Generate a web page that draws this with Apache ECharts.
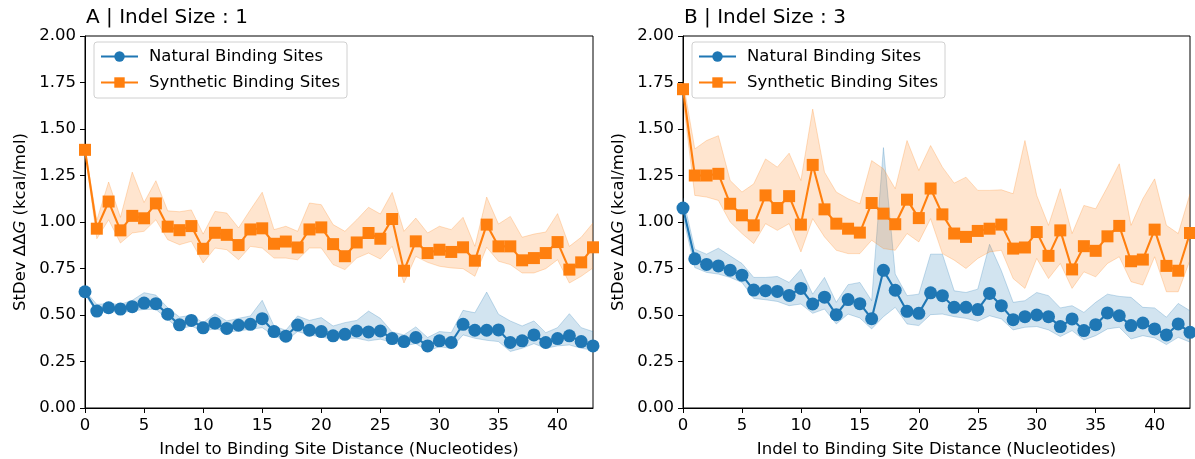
<!DOCTYPE html>
<html>
<head>
<meta charset="utf-8">
<script src="https://cdn.jsdelivr.net/npm/echarts@6/dist/echarts.min.js"></script>
<style>
  html, body { margin: 0; padding: 0; background: #fff; }
  #main { width: 1195px; height: 459px; }
</style>
</head>
<body>
<div id="main"></div>
<script>
// A | Indel Size : 1
var natA = [0.625, 0.521, 0.539, 0.532, 0.545, 0.564, 0.561, 0.504, 0.447, 0.471, 0.431, 0.456, 0.428, 0.445, 0.450, 0.480, 0.411, 0.386, 0.446, 0.418, 0.411, 0.388,
            0.396, 0.414, 0.409, 0.414, 0.373, 0.357, 0.379, 0.334, 0.361, 0.352, 0.450, 0.418, 0.418, 0.420, 0.352, 0.361, 0.393, 0.352, 0.373, 0.388, 0.357, 0.334];
var natAHi = [0.630, 0.557, 0.561, 0.557, 0.579, 0.620, 0.607, 0.539, 0.489, 0.498, 0.459, 0.507, 0.468, 0.482, 0.495, 0.579, 0.441, 0.418, 0.495, 0.471, 0.486, 0.441,
              0.459, 0.471, 0.521, 0.482, 0.409, 0.393, 0.436, 0.379, 0.411, 0.405, 0.525, 0.512, 0.623, 0.504, 0.468, 0.441, 0.468, 0.405, 0.432, 0.507, 0.432, 0.411];
var natALo = [0.611, 0.512, 0.521, 0.512, 0.521, 0.530, 0.530, 0.477, 0.423, 0.441, 0.411, 0.427, 0.409, 0.414, 0.423, 0.432, 0.388, 0.361, 0.411, 0.393, 0.382, 0.368,
              0.375, 0.375, 0.361, 0.370, 0.352, 0.334, 0.346, 0.307, 0.329, 0.321, 0.393, 0.375, 0.364, 0.357, 0.304, 0.321, 0.346, 0.321, 0.334, 0.339, 0.321, 0.311];
var synA = [1.388, 0.964, 1.110, 0.955, 1.033, 1.020, 1.100, 0.975, 0.956, 0.978, 0.856, 0.942, 0.931, 0.876, 0.960, 0.966, 0.883, 0.895, 0.863, 0.960, 0.971, 0.881,
            0.816, 0.890, 0.941, 0.910, 1.016, 0.738, 0.896, 0.833, 0.851, 0.839, 0.864, 0.792, 0.986, 0.869, 0.869, 0.794, 0.806, 0.833, 0.892, 0.744, 0.783, 0.864];
var synAHi = [1.392, 1.010, 1.215, 1.025, 1.268, 1.105, 1.222, 1.060, 1.055, 1.065, 0.935, 1.057, 1.048, 0.968, 1.066, 1.160, 0.959, 0.977, 0.950, 1.102, 1.093, 0.986,
              0.950, 1.012, 1.079, 1.043, 1.159, 0.950, 1.021, 0.941, 0.977, 0.959, 1.025, 0.869, 1.134, 0.989, 1.030, 0.918, 0.935, 0.946, 1.045, 0.869, 0.918, 0.995];
var synALo = [1.380, 0.910, 1.012, 0.887, 0.941, 0.950, 1.012, 0.905, 0.878, 0.896, 0.780, 0.860, 0.851, 0.797, 0.869, 0.860, 0.806, 0.806, 0.797, 0.860, 0.860, 0.771,
              0.744, 0.806, 0.833, 0.801, 0.869, 0.672, 0.815, 0.783, 0.762, 0.753, 0.749, 0.708, 0.864, 0.789, 0.771, 0.726, 0.726, 0.749, 0.797, 0.672, 0.708, 0.753];

// B | Indel Size : 3
var natB = [1.075, 0.802, 0.772, 0.764, 0.741, 0.714, 0.634, 0.631, 0.627, 0.605, 0.643, 0.559, 0.596, 0.502, 0.583, 0.561, 0.480, 0.740, 0.633, 0.520, 0.509, 0.619,
            0.604, 0.541, 0.541, 0.529, 0.616, 0.550, 0.475, 0.491, 0.500, 0.491, 0.438, 0.479, 0.416, 0.448, 0.511, 0.496, 0.443, 0.457, 0.425, 0.393, 0.452, 0.407];
var natBHi = [1.130, 0.854, 0.827, 0.859, 0.818, 0.777, 0.702, 0.702, 0.707, 0.675, 0.746, 0.612, 0.702, 0.568, 0.663, 0.675, 0.577, 1.400, 0.720, 0.604, 0.612, 0.827,
              0.827, 0.630, 0.621, 0.639, 0.880, 0.738, 0.568, 0.577, 0.621, 0.604, 0.538, 0.550, 0.514, 0.568, 0.612, 0.600, 0.595, 0.541, 0.538, 0.488, 0.562, 0.523];
var natBLo = [1.030, 0.755, 0.729, 0.720, 0.702, 0.675, 0.589, 0.582, 0.573, 0.550, 0.559, 0.509, 0.532, 0.452, 0.505, 0.484, 0.425, 0.491, 0.541, 0.452, 0.443, 0.502,
              0.505, 0.491, 0.482, 0.466, 0.496, 0.479, 0.420, 0.434, 0.438, 0.420, 0.384, 0.416, 0.366, 0.389, 0.425, 0.434, 0.371, 0.389, 0.377, 0.341, 0.380, 0.354];
var synB = [1.714, 1.250, 1.250, 1.259, 1.098, 1.036, 0.982, 1.143, 1.075, 1.139, 0.986, 1.307, 1.068, 0.991, 0.964, 0.943, 1.102, 1.045, 0.988, 1.120, 1.021, 1.180,
            1.041, 0.938, 0.920, 0.952, 0.964, 0.986, 0.857, 0.863, 0.946, 0.818, 0.955, 0.745, 0.870, 0.845, 0.923, 0.979, 0.789, 0.798, 0.959, 0.764, 0.738, 0.941];
var synBHi = [1.760, 1.393, 1.438, 1.464, 1.223, 1.161, 1.205, 1.339, 1.295, 1.370, 1.223, 1.607, 1.268, 1.161, 1.125, 1.098, 1.330, 1.286, 1.179, 1.438, 1.277, 1.411,
              1.295, 1.209, 1.241, 1.170, 1.170, 1.173, 1.152, 1.438, 1.143, 0.982, 1.179, 0.938, 1.089, 1.071, 1.188, 1.313, 0.982, 1.125, 1.232, 0.982, 0.938, 1.152];
var synBLo = [1.660, 1.143, 1.134, 1.116, 1.000, 0.938, 0.884, 0.991, 0.955, 0.991, 0.839, 1.018, 0.920, 0.848, 0.830, 0.830, 0.902, 0.857, 0.848, 0.938, 0.893, 1.018,
              0.830, 0.795, 0.750, 0.804, 0.839, 0.848, 0.696, 0.643, 0.804, 0.696, 0.777, 0.643, 0.732, 0.705, 0.777, 0.813, 0.679, 0.661, 0.813, 0.625, 0.625, 0.795];

var titles = ['A | Indel Size : 1', 'B | Indel Size : 3'];
var seriesNames = ['Natural Binding Sites', 'Synthetic Binding Sites'];

var BLUE = '#1f77b4', ORANGE = '#ff7f0e';
var FONT = 'DejaVu Sans';
var FS = 16.5;

function pairs(arr) { return arr.map(function (v, i) { return [i, v]; }); }

// shaded band between lo and hi, drawn as one polygon through the axis scales
function band(gi, hi, lo, color) {
  return {
    type: 'custom', xAxisIndex: gi, yAxisIndex: gi, silent: true, z: 1,
    data: [[0, lo[0]]],
    clip: true,
    renderItem: function (params, api) {
      var top = hi.map(function (v, i) { return api.coord([i, v]); });
      var bot = lo.map(function (v, i) { return api.coord([i, v]); }).reverse();
      return {
        type: 'group',
        children: [
          { type: 'polygon', shape: { points: top.concat(bot) },
            style: { fill: color, opacity: 0.2, stroke: null } },
          { type: 'polyline', shape: { points: top },
            style: { stroke: color, opacity: 0.25, lineWidth: 1, fill: null } },
          { type: 'polyline', shape: { points: bot },
            style: { stroke: color, opacity: 0.25, lineWidth: 1, fill: null } }
        ]
      };
    }
  };
}

function mainLine(gi, name, vals, color, symbol) {
  return {
    name: name, type: 'line', xAxisIndex: gi, yAxisIndex: gi, data: pairs(vals),
    symbol: symbol, symbolSize: symbol === 'circle' ? 13 : 12, z: 3,
    itemStyle: { color: color },
    lineStyle: { color: color, width: 2.1 }
  };
}

var grids = [
  { left: 85, top: 36, width: 508, height: 372 },
  { left: 683, top: 36, width: 507, height: 372 }
];

function xAx(gi) {
  return {
    type: 'value', gridIndex: gi, min: 0, max: 43, interval: 5,
    name: 'Indel to Binding Site Distance (Nucleotides)', nameLocation: 'middle', nameGap: 33,
    nameTextStyle: { fontFamily: FONT, fontSize: FS, color: '#000' },
    axisLine: { show: true, onZero: false, lineStyle: { color: '#000', width: 1 } },
    axisTick: { show: true, length: 5, lineStyle: { color: '#000' } },
    axisLabel: { fontFamily: FONT, fontSize: FS, color: '#000', margin: 9, showMaxLabel: false },
    splitLine: { show: false }
  };
}

function yAx(gi) {
  return {
    type: 'value', gridIndex: gi, min: 0, max: 2, interval: 0.25,
    name: 'StDev ΔΔ{i|G} (kcal/mol)', nameLocation: 'middle', nameGap: 56, nameRotate: 90,
    nameTextStyle: {
      fontFamily: FONT, fontSize: FS, color: '#000',
      rich: { i: { fontFamily: FONT, fontSize: FS, fontStyle: 'italic', color: '#000' } }
    },
    axisLine: { show: true, lineStyle: { color: '#000', width: 1 } },
    axisTick: { show: true, length: 5, lineStyle: { color: '#000' } },
    axisLabel: { fontFamily: FONT, fontSize: FS, color: '#000', margin: 9,
      formatter: function (v) { return v.toFixed(2); } },
    splitLine: { show: false }
  };
}

function legend(left) {
  return {
    left: left, top: 42, orient: 'vertical', itemGap: 7, itemWidth: 37, itemHeight: 13,
    padding: [5, 7, 6, 6], borderColor: '#d0d0d0', borderWidth: 1, borderRadius: 3,
    backgroundColor: 'rgba(255,255,255,0.8)',
    textStyle: { fontFamily: FONT, fontSize: FS, color: '#000', padding: [0, 0, 0, 6], lineHeight: 19 },
    data: seriesNames
  };
}

var series = [
  band(0, natAHi, natALo, BLUE),
  band(0, synAHi, synALo, ORANGE),
  band(1, natBHi, natBLo, BLUE),
  band(1, synBHi, synBLo, ORANGE),
  mainLine(0, seriesNames[0], natA, BLUE, 'circle'),
  mainLine(0, seriesNames[1], synA, ORANGE, 'rect'),
  mainLine(1, seriesNames[0], natB, BLUE, 'circle'),
  mainLine(1, seriesNames[1], synB, ORANGE, 'rect')
];

var titleStyle = { fontFamily: FONT, fontSize: 20, fontWeight: 'normal', color: '#000' };

var option = {
  animation: false,
  backgroundColor: '#fff',
  title: [
    { text: titles[0], left: 86, top: 8, padding: 0, textStyle: titleStyle },
    { text: titles[1], left: 684, top: 8, padding: 0, textStyle: titleStyle }
  ],
  legend: [legend(94), legend(692)],
  grid: grids.map(function (g) {
    return Object.assign({
      show: true, borderColor: '#000', borderWidth: 1, backgroundColor: 'transparent',
      containLabel: false, outerBoundsMode: 'none'
    }, g);
  }),
  xAxis: [xAx(0), xAx(1)],
  yAxis: [yAx(0), yAx(1)],
  series: series
};

var myChart = echarts.init(document.getElementById('main'), null, { renderer: 'canvas' });
myChart.setOption(option);
</script>
</body>
</html>
